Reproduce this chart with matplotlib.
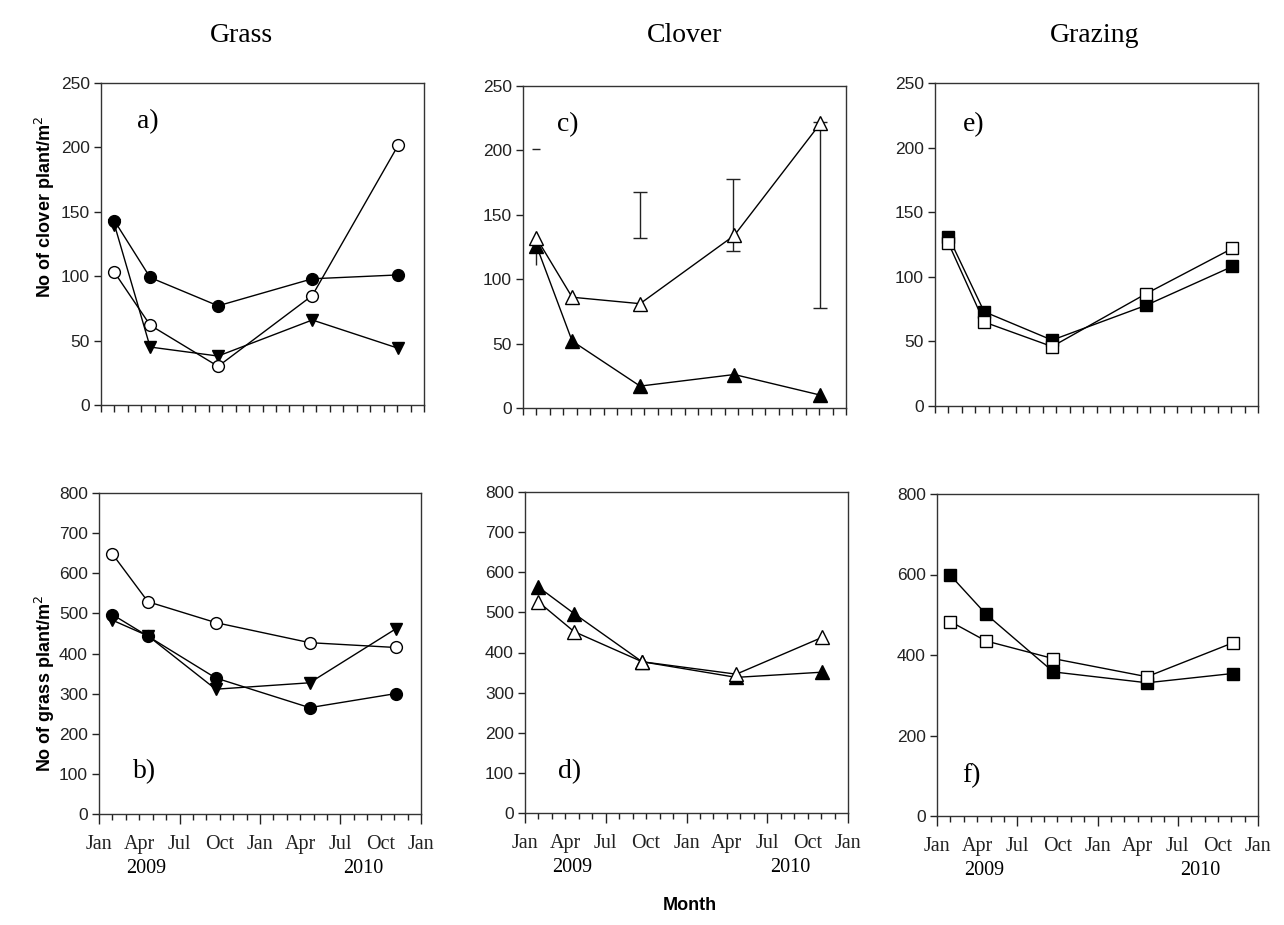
import matplotlib
matplotlib.use('Agg')
import matplotlib.pyplot as plt
import matplotlib.transforms as mtransforms

plt.rcParams['font.family'] = 'Liberation Sans'

# sampling dates, months after 1 Jan 2009
months = [1.0, 3.65, 8.7, 15.7, 22.1]

# a) Grass, clover plants
grass_clov_fill_circ = [143, 99, 77, 98, 101]
grass_clov_open_circ = [103, 62, 30, 85, 202]
grass_clov_down_tri = [140, 45, 38, 66, 44]
# b) Grass, grass plants
grass_gras_open_circ = [648, 529, 477, 427, 415]
grass_gras_fill_circ = [497, 443, 339, 265, 300]
grass_gras_down_tri = [483, 444, 311, 327, 461]
# c) Clover, clover plants
clov_clov_open_tri = [132, 86, 81, 134, 221]
clov_clov_fill_tri = [126, 52, 17, 26, 10]
# error bars in c)
err_x = [8.7, 15.6, 22.1]
err_lo = [132, 122, 78]
err_hi = [168, 178, 222]
first_err_lo = 111
first_err_cap = 201
# d) Clover, grass plants
clov_gras_fill_tri = [563, 497, 377, 338, 351]
clov_gras_open_tri = [526, 452, 377, 346, 438]
# e) Grazing, clover plants
graz_clov_fill_sq = [131, 73, 51, 78, 108]
graz_clov_open_sq = [126, 65, 46, 87, 122]
# f) Grazing, grass plants
graz_gras_fill_sq = [598, 502, 358, 331, 354]
graz_gras_open_sq = [483, 435, 391, 346, 430]

month_labels = ['Jan', 'Apr', 'Jul', 'Oct', 'Jan', 'Apr', 'Jul', 'Oct', 'Jan']
years = ['2009', '2010']
year_pos = [3.5, 19.7]

W, H = 1284, 925
fig = plt.figure(figsize=(W / 100, H / 100), dpi=100)


def px_axes(left, right, top, bottom):
    return fig.add_axes([left / W, 1 - bottom / H, (right - left) / W, (bottom - top) / H])


def style(ax, ymax, ystep, bottom_row):
    ax.set_xlim(0, 24)
    ax.set_ylim(0, ymax)
    ax.set_yticks(range(0, ymax + 1, ystep))
    for s in ax.spines.values():
        s.set_linewidth(1.0)
        s.set_color('#333333')
    ax.tick_params(axis='y', direction='out', length=5, width=1, labelsize=12.5,
                   colors='#222222', pad=3)
    if bottom_row:
        ax.set_xticks(range(0, 25, 3))
        ax.set_xticks(range(0, 25), minor=True)
        ax.set_xticklabels(month_labels, family='Liberation Serif', fontsize=14.5)
        ax.tick_params(axis='x', which='both', direction='out', length=4, width=1,
                       colors='#222222', pad=11)
        for t, pos in zip(ax.xaxis.get_major_ticks(), range(0, 25, 3)):
            t.tick1line.set_markersize(7 if pos % 6 == 0 else 4)
        trans = mtransforms.blended_transform_factory(ax.transData, ax.transAxes)
        for yr, xp in zip(years, year_pos):
            ax.text(xp, -0.17, yr, transform=trans, ha='center', va='center',
                    family='Liberation Serif', fontsize=14.5)
    else:
        ax.set_xticks(range(0, 25))
        ax.set_xticklabels([])
        ax.tick_params(axis='x', direction='out', length=5, width=1, colors='#222222')


def series(ax, y, marker, filled, ms):
    ax.plot(months, y, color='black', lw=1.0, marker=marker, ms=ms,
            mfc='black' if filled else 'white', mec='black', mew=1.0, zorder=3)


def panel_label(ax, text, x, y):
    ax.text(x, y, text, ha='center', va='center', family='Liberation Serif', fontsize=20)


ax_a = px_axes(101, 424, 83, 405)
ax_c = px_axes(523, 846, 86, 408)
ax_e = px_axes(935, 1258, 83, 406)
ax_b = px_axes(99, 421, 493, 814)
ax_d = px_axes(525, 848, 492, 813)
ax_f = px_axes(937, 1258, 494, 816)

# a)
series(ax_a, grass_clov_fill_circ, 'o', True, 8.5)
series(ax_a, grass_clov_down_tri, 'v', True, 9)
series(ax_a, grass_clov_open_circ, 'o', False, 8.5)
style(ax_a, 250, 50, False)
panel_label(ax_a, 'a)', 3.5, 220)

# b)
series(ax_b, grass_gras_fill_circ, 'o', True, 8.5)
series(ax_b, grass_gras_down_tri, 'v', True, 9)
series(ax_b, grass_gras_open_circ, 'o', False, 8.5)
style(ax_b, 800, 100, True)
panel_label(ax_b, 'b)', 3.4, 105)

# c)
ax_c.errorbar(err_x, [(l + h) / 2 for l, h in zip(err_lo, err_hi)],
              yerr=[[(h - l) / 2 for l, h in zip(err_lo, err_hi)]] * 2,
              fmt='none', ecolor='#222222', elinewidth=1.0, capsize=5, capthick=1.0)
ax_c.vlines(months[0], first_err_lo, clov_clov_fill_tri[0], color='#222222', lw=1.0)
ax_c.plot([months[0]], [first_err_cap], marker='_', ms=6, color='#222222', mew=1.0)
series(ax_c, clov_clov_fill_tri, '^', True, 9.5)
series(ax_c, clov_clov_open_tri, '^', False, 9.5)
style(ax_c, 250, 50, False)
panel_label(ax_c, 'c)', 3.3, 220)

# d)
series(ax_d, clov_gras_fill_tri, '^', True, 9.5)
series(ax_d, clov_gras_open_tri, '^', False, 9.5)
style(ax_d, 800, 100, True)
panel_label(ax_d, 'd)', 3.3, 102)

# e)
series(ax_e, graz_clov_fill_sq, 's', True, 8)
series(ax_e, graz_clov_open_sq, 's', False, 8)
style(ax_e, 250, 50, False)
panel_label(ax_e, 'e)', 2.9, 218)

# f)
series(ax_f, graz_gras_fill_sq, 's', True, 8)
series(ax_f, graz_gras_open_sq, 's', False, 8)
style(ax_f, 800, 200, True)
panel_label(ax_f, 'f)', 2.6, 100)

# column titles
for title, xc in zip(['Grass', 'Clover', 'Grazing'], [241, 685, 1095]):
    fig.text(xc / W, 1 - 35 / H, title, ha='center', va='center',
             family='Liberation Serif', fontsize=20)

fig.text(45 / W, 1 - 207 / H, 'No of clover plant/m$^2$', rotation=90, ha='center',
         va='center', fontsize=13, fontweight='bold')
fig.text(45 / W, 1 - 684 / H, 'No of grass plant/m$^2$', rotation=90, ha='center',
         va='center', fontsize=13, fontweight='bold')
fig.text(690 / W, 1 - 905 / H, 'Month', ha='center', va='center',
         fontsize=13, fontweight='bold')

fig.savefig('out.png', dpi=100)
